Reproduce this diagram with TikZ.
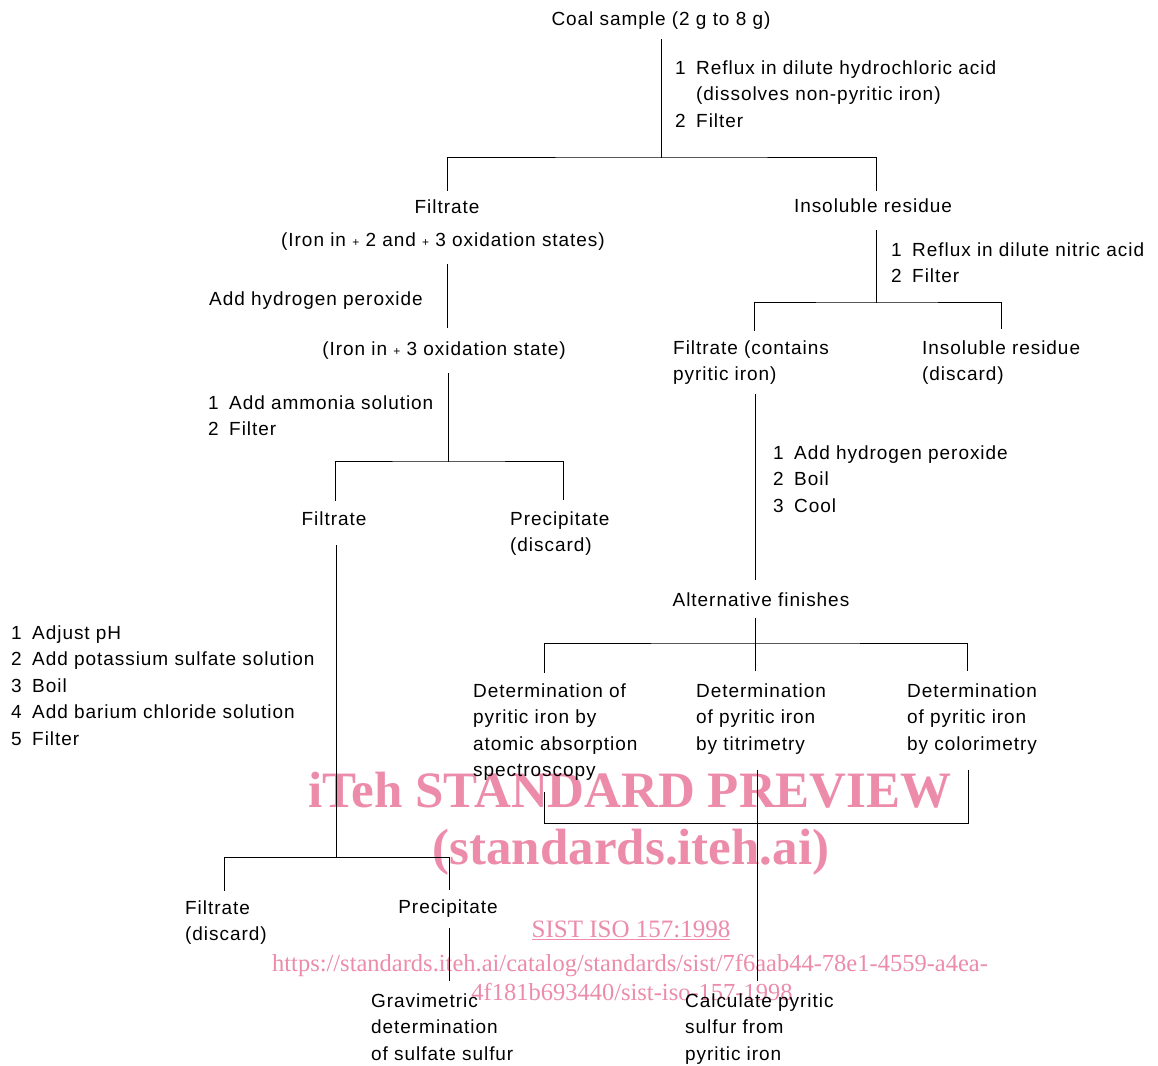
\documentclass[tikz,border=0pt]{standalone}
\usepackage{fontspec}
\setmainfont{Liberation Sans}[LetterSpace=5]
\newfontfamily\wmfont{Liberation Serif}
\definecolor{wmpink}{RGB}{236,140,170}
\newcommand\nb[1]{\makebox[21pt][l]{#1}}
\newcommand\pl{{\fontsize{12}{12}\selectfont +}}
\tikzset{
  t/.style={font=\fontsize{19}{26.6}\selectfont, inner sep=0pt, align=left},
  ln/.style={line width=1pt, line cap=rect},
  wm/.style={text=wmpink, inner sep=0pt}
}
\begin{document}
\begin{tikzpicture}[x=1pt,y=-1pt]
\useasboundingbox (0,0) rectangle (1158,1065);
\fill[white] (0,0) rectangle (1158,1065);

% watermark
\node[wm, font={\wmfont\bfseries\fontsize{51}{51}\selectfont}, anchor=base] (wm1) at (630,807) {iTeh STANDARD PREVIEW};
\node[wm, font={\wmfont\bfseries\fontsize{51}{51}\selectfont}, anchor=base] (wm2) at (631,864) {(standards.iteh.ai)};
\node[wm, font={\wmfont\fontsize{25}{25}\selectfont}, anchor=base] (wm3) at (631,937) {\underline{SIST ISO 157:1998}};
\node[wm, font={\wmfont\fontsize{24.5}{24.5}\selectfont}, anchor=base] (wm4) at (630,971) {https://standards.iteh.ai/catalog/standards/sist/7f6aab44-78e1-4559-a4ea-};
\node[wm, font={\wmfont\fontsize{24.5}{24.5}\selectfont}, anchor=base] (wm5) at (632,1000) {4f181b693440/sist-iso-157-1998};

% text nodes (multi-line nodes are placed by the baseline of their last line)
\node[t, anchor=base] (coal) at (661,26) {Coal sample (2 g to 8 g)};
\node[t, anchor=base west] (hcl) at (675,127.2) {\nb{1}Reflux in dilute hydrochloric acid\\\nb{}(dissolves non-pyritic iron)\\\nb{2}Filter};
\node[t, anchor=base] (fil1) at (447,213) {Filtrate};
\node[t, anchor=base] (iron23) at (443,246) {(Iron in \pl\ 2 and \pl\ 3 oxidation states)};
\node[t, anchor=base west] (hp) at (209,305) {Add hydrogen peroxide};
\node[t, anchor=base] (iron3) at (444,355) {(Iron in \pl\ 3 oxidation state)};
\node[t, anchor=base west] (amm) at (208,435.6) {\nb{1}Add ammonia solution\\\nb{2}Filter};
\node[t, anchor=base] (fil2) at (334,525) {Filtrate};
\node[t, anchor=base west] (prec1) at (510,551.6) {Precipitate\\(discard)};
\node[t, anchor=base west] (ph) at (11,745.4) {\nb{1}Adjust pH\\\nb{2}Add potassium sulfate solution\\\nb{3}Boil\\\nb{4}Add barium chloride solution\\\nb{5}Filter};
\node[t, anchor=base west] (fil3) at (185,940.6) {Filtrate\\(discard)};
\node[t, anchor=base] (prec2) at (448,913) {Precipitate};
\node[t, anchor=base west] (grav) at (371,1060.2) {Gravimetric\\determination\\of sulfate sulfur};

\node[t, anchor=base] (ins1) at (873,212) {Insoluble residue};
\node[t, anchor=base west] (nit) at (891,282.6) {\nb{1}Reflux in dilute nitric acid\\\nb{2}Filter};
\node[t, anchor=base west] (fil4) at (673,380.6) {Filtrate (contains\\pyritic iron)};
\node[t, anchor=base west] (ins2) at (922,380.6) {Insoluble residue\\(discard)};
\node[t, anchor=base west] (boil) at (773,512.2) {\nb{1}Add hydrogen peroxide\\\nb{2}Boil\\\nb{3}Cool};
\node[t, anchor=base] (alt) at (761,606) {Alternative finishes};
\node[t, anchor=base west] (det1) at (473,776.8) {Determination of\\pyritic iron by\\atomic absorption\\spectroscopy};
\node[t, anchor=base west] (det2) at (696,750.2) {Determination\\of pyritic iron\\by titrimetry};
\node[t, anchor=base west] (det3) at (907,750.2) {Determination\\of pyritic iron\\by colorimetry};
\node[t, anchor=base west] (calc) at (685,1060.2) {Calculate pyritic\\sulfur from\\pyritic iron};

% connector coordinates
\coordinate (coalO) at (661,40);
\coordinate (j1) at (661,157);
\coordinate (fil1I) at (447,190);
\coordinate (ins1I) at (876,190);
\coordinate (iron23O) at (447,264);
\coordinate (iron3I) at (447,327);
\coordinate (iron3O) at (448,373);
\coordinate (j2) at (448,461);
\coordinate (fil2I) at (335,500);
\coordinate (prec1I) at (563,499);
\coordinate (fil2O) at (336,545);
\coordinate (j3) at (336,857);
\coordinate (fil3I) at (224,890);
\coordinate (prec2I) at (449,889);
\coordinate (prec2O) at (449,928);
\coordinate (gravI) at (449,980);
\coordinate (ins1O) at (876,230);
\coordinate (j4) at (876,302);
\coordinate (fil4I) at (754,330);
\coordinate (ins2I) at (1001,328);
\coordinate (fil4O) at (755,394);
\coordinate (altI) at (755,579);
\coordinate (altO) at (755,618);
\coordinate (j5) at (755,643);
\coordinate (det1I) at (544,672);
\coordinate (det2I) at (755,670);
\coordinate (det3I) at (967,670);
\coordinate (det1O) at (544,792);
\coordinate (det2O) at (757,770);
\coordinate (det3O) at (968,770);
\coordinate (j6) at (757,823);
\coordinate (calcI) at (757,980);

% connectors
\draw[ln] (coalO) -- (j1);
\draw[ln] (fil1I) |- (j1) -| (ins1I);
\draw[ln] (iron23O) -- (iron3I);
\draw[ln] (iron3O) -- (j2);
\draw[ln] (fil2I) |- (j2) -| (prec1I);
\draw[ln] (fil2O) -- (j3);
\draw[ln] (fil3I) |- (j3) -| (prec2I);
\draw[ln] (prec2O) -- (gravI);
\draw[ln] (ins1O) -- (j4);
\draw[ln] (fil4I) |- (j4) -| (ins2I);
\draw[ln] (fil4O) -- (altI);
\draw[ln] (altO) -- (det2I);
\draw[ln] (det1I) |- (j5) -| (det3I);
\draw[ln] (det1O) |- (j6) -| (det3O);
\draw[ln] (det2O) -- (calcI);
\end{tikzpicture}
\end{document}
